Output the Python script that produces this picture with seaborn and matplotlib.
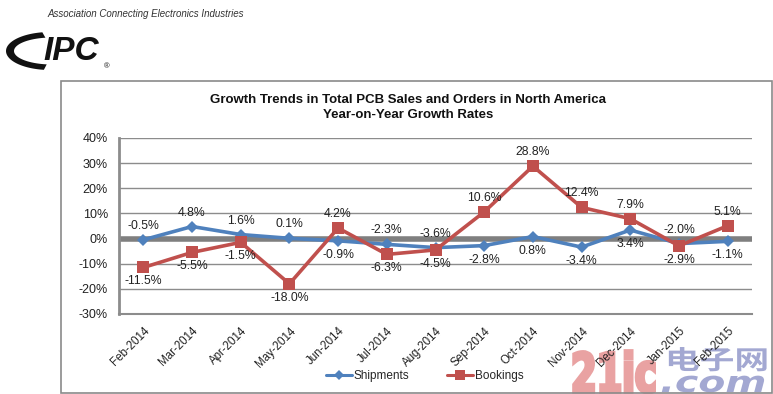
import matplotlib
matplotlib.use("Agg")
import matplotlib.pyplot as plt
import seaborn as sns
import pandas as pd
import numpy as np
from matplotlib.patches import Rectangle, Polygon
from matplotlib.lines import Line2D
from matplotlib.patheffects import AbstractPathEffect
from matplotlib.transforms import Affine2D

months = ["Feb-2014", "Mar-2014", "Apr-2014", "May-2014", "Jun-2014", "Jul-2014",
          "Aug-2014", "Sep-2014", "Oct-2014", "Nov-2014", "Dec-2014", "Jan-2015", "Feb-2015"]
shipments = [-0.5, 4.8, 1.6, 0.1, -0.9, -2.3, -3.6, -2.8, 0.8, -3.4, 3.4, -2.0, -1.1]
bookings = [-11.5, -5.5, -1.5, -18.0, 4.2, -6.3, -4.5, 10.6, 28.8, 12.4, 7.9, -2.9, 5.1]
y_ticks = [-30, -20, -10, 0, 10, 20, 30, 40]

# label side: +1 above, -1 below
ship_side = [1, 1, 1, 1, -1, 1, 1, -1, -1, -1, -1, 1, -1]
book_side = [-1, -1, -1, -1, 1, -1, -1, 1, 1, 1, 1, -1, 1]

sns.set_theme(style="white")
plt.rcParams['font.family'] = ['Liberation Sans', 'DejaVu Sans']

BLUE = "#4F81BD"
RED = "#C0504D"
GRID = "#8C8C8C"
W, H = 773, 394


class Squeeze(AbstractPathEffect):
    """Scale glyph outlines about a display-space anchor (text stays text)."""
    def __init__(self, sx, sy, x0, y0, stroke=0):
        super().__init__()
        self.sx, self.sy, self.x0, self.y0, self.stroke = sx, sy, x0, y0, stroke

    def draw_path(self, renderer, gc, tpath, affine, rgbFace=None):
        t = affine + Affine2D().translate(-self.x0, -self.y0).scale(self.sx, self.sy).translate(self.x0, self.y0)
        if self.stroke and rgbFace is not None:
            gc0 = renderer.new_gc()
            gc0.copy_properties(gc)
            gc0.set_linewidth(self.stroke)
            gc0.set_foreground(rgbFace[:3])
            gc0.set_joinstyle("miter")
            renderer.draw_path(gc0, tpath, t, rgbFace)
            gc0.restore()
        else:
            renderer.draw_path(gc, tpath, t, rgbFace)


df = pd.DataFrame({"month": months * 2,
                   "x": list(range(len(months))) * 2,
                   "value": shipments + bookings,
                   "series": ["Shipments"] * len(months) + ["Bookings"] * len(months)})

fig = plt.figure(figsize=(W / 100, H / 100), dpi=100)
fig.patch.set_facecolor("white")

# background layer in pixel coordinates (logo + watermark)
lax = fig.add_axes([0, 0, 1, 1], zorder=-1)
lax.set_xlim(0, W)
lax.set_ylim(H, 0)
lax.axis("off")

# chart frame
fig.add_artist(Rectangle((61 / W, 1 - 393 / H), (772 - 61) / W, (393 - 81) / H,
                         transform=fig.transFigure, fill=False, edgecolor="#8A8A8A", lw=1.2))

ax = fig.add_axes([119 / W, 1 - 314 / H, (752 - 119) / W, (314 - 138) / H])
ax.patch.set_alpha(0)

sns.lineplot(data=df, x="x", y="value", hue="series", style="series",
             palette={"Shipments": BLUE, "Bookings": RED},
             markers={"Shipments": "D", "Bookings": "s"}, dashes=False,
             markersize=7, linewidth=2.6, markeredgewidth=0, ax=ax, legend=False,
             zorder=3)
for ln in ax.lines:
    if matplotlib.colors.to_hex(ln.get_color()).lower() == BLUE.lower():
        ln.set_markersize(6)
    else:
        ln.set_markersize(8.5)

ax.set_xlim(-0.5, len(months) - 0.5)
ax.set_ylim(-30, 40)
ax.set_yticks(y_ticks)
ax.set_yticklabels([f"{t}%" for t in y_ticks], fontsize=9, color="#222222")
ax.set_xticks(range(len(months)))
ax.set_xticklabels(months, rotation=45, ha="right", rotation_mode="anchor",
                   fontsize=8.3, color="#222222")
ax.tick_params(axis="x", length=0, pad=8)
ax.tick_params(axis="y", length=0, pad=8)
ax.set_xlabel("")
ax.set_ylabel("")

for t in y_ticks:
    if t == -30:
        continue
    if t == 0:
        ax.axhline(0, color="#7F7F7F", lw=4, zorder=2)
    else:
        ax.axhline(t, color=GRID, lw=1, zorder=1)

for s in ["top", "right"]:
    ax.spines[s].set_visible(False)
ax.spines["left"].set_color(GRID)
ax.spines["left"].set_linewidth(2)
ax.spines["bottom"].set_color(GRID)
ax.spines["bottom"].set_linewidth(1.5)

for i, (v, sd) in enumerate(zip(shipments, ship_side)):
    ax.annotate(f"{v:.1f}%", (i, v), xytext=(0, 14 * sd), textcoords="offset pixels",
                ha="center", va="center", fontsize=8.8, color="#222222", zorder=5)
for i, (v, sd) in enumerate(zip(bookings, book_side)):
    ax.annotate(f"{v:.1f}%", (i, v), xytext=(0, 14 * sd), textcoords="offset pixels",
                ha="center", va="center", fontsize=8.8, color="#222222", zorder=5)

# title
fig.text(408 / W, 1 - 100 / H, "Growth Trends in Total PCB Sales and Orders in North America",
         ha="center", va="center", fontsize=9.5, fontweight="bold", color="#111111")
fig.text(408 / W, 1 - 115 / H, "Year-on-Year Growth Rates",
         ha="center", va="center", fontsize=9.5, fontweight="bold", color="#111111")

# legend
handles = [Line2D([], [], color=BLUE, lw=2.2, marker="D", markersize=5, markeredgewidth=0),
           Line2D([], [], color=RED, lw=2.2, marker="s", markersize=6.5, markeredgewidth=0)]
fig.legend(handles, ["Shipments", "Bookings"], loc="center", ncol=2,
           bbox_to_anchor=(425 / W, 1 - 376 / H), frameon=False, fontsize=8.5,
           handlelength=2.2, handletextpad=0.15, columnspacing=3.2)

# IPC header
lax.text(47, 14, "Association Connecting Electronics Industries",
         ha="left", va="center", fontsize=7, style="italic", color="#333333")
lax.text(43, 51, "IPC", ha="left", va="center", fontsize=24,
         fontweight="bold", style="italic", color="#111111")
lax.text(104, 67, "®", ha="left", va="center", fontsize=5.5, color="#111111")
th = np.radians(np.linspace(100, 262, 60))
outer = np.column_stack([50 + 44 * np.cos(th), 51 - 19 * np.sin(th)])
inner = np.column_stack([52 + 38 * np.cos(th[::-1]), 51 - 13.5 * np.sin(th[::-1])])
lax.add_patch(Polygon(np.vstack([outer, inner]), closed=True, color="#111111", lw=0))

# watermark (real text, condensed by a path effect), drawn beneath the chart
lax.text(571, 392, "21ic", ha="left", va="baseline", fontsize=39,
         fontweight="bold", color="#E9A2A2", family=["DejaVu Sans"],
         path_effects=[Squeeze(0.68, 1.0, 571, H - 392, stroke=2.5)])
lax.text(665, 369, "电子网", ha="left", va="baseline", fontsize=25,
         fontweight="bold", color="#A3A8D2", family=["Noto Sans CJK SC", "DejaVu Sans"],
         path_effects=[Squeeze(1.0, 0.75, 665, H - 369)])
lax.text(660, 392, ".com", ha="left", va="baseline", fontsize=27,
         fontweight="bold", style="italic", color="#A3A8D2", family=["DejaVu Sans"],
         path_effects=[Squeeze(1.05, 0.78, 660, H - 392)])

fig.savefig("out.png", dpi=100, facecolor="white")
